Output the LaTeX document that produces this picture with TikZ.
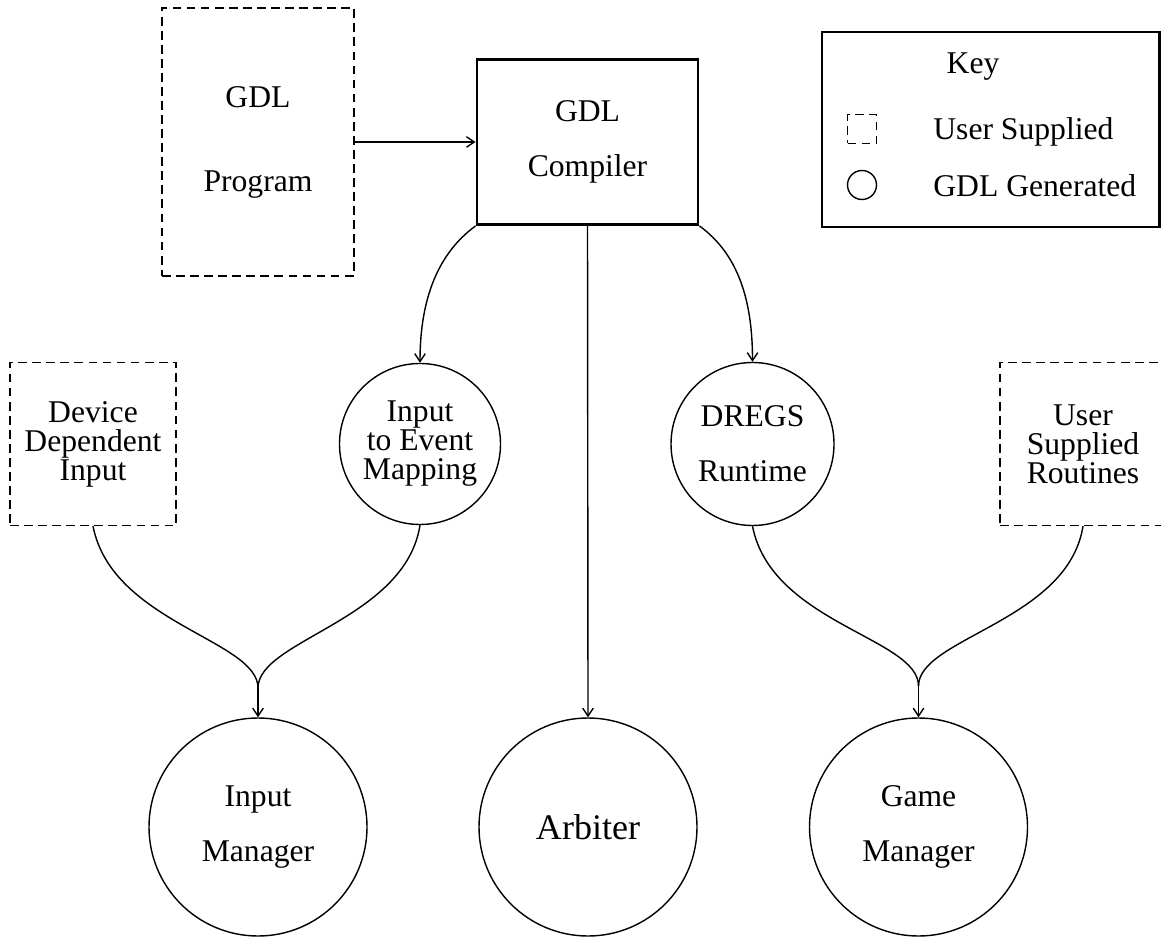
\documentclass[tikz,border=0pt]{standalone}
\usepackage{fontspec}
\setmainfont{Liberation Serif}
\usetikzlibrary{arrows.meta}

\newcommand\gdlfont{\fontsize{18}{16.5}\selectfont\lineskiplimit=-20pt\relax}

\begin{document}
\begin{tikzpicture}[
  >={Straight Barb[length=4.5pt,width=6pt]},
  every node/.style={font=\gdlfont, align=center},
  usrbox/.style={draw, dash pattern=on 5pt off 3pt, line width=0.7pt, inner sep=0pt},
  gen/.style={draw, circle, line width=0.8pt, inner sep=0pt},
  flow/.style={->, line width=0.8pt}
]
\useasboundingbox (0,0) rectangle (23.22,18.76);
\def\ytop{15.92}
\def\ymid{9.88}
\def\ylow{2.22}
%top row
\node[usrbox, minimum width=3.84cm, minimum height=5.36cm] (prog) at (5.16,\ytop) {GDL\\[1.1cm]Program};
\node[draw, line width=1.6pt, minimum width=4.42cm, minimum height=3.3cm] (comp) at (11.75,\ytop) {GDL\\[0.52cm]Compiler};
%key
\node[draw, line width=1.6pt, minimum width=6.75cm, minimum height=3.9cm] (key) at (19.815,16.17) {};
\node (keyt) at (19.46,17.42) {Key};
\node[usrbox, minimum size=0.58cm] (ku) at (17.24,16.18) {};
\node[gen, minimum size=0.58cm] (kg) at (17.24,15.06) {};
\node[anchor=west, inner sep=0pt] (kut) at (18.66,16.12) {User Supplied};
\node[anchor=west, inner sep=0pt] (kgt) at (18.66,15.04) {GDL Generated};
%middle row
\node[usrbox, minimum width=3.32cm, minimum height=3.26cm] (dev) at (1.86,\ymid) {Device\\Dependent\\Input};
\node[gen, minimum size=3.22cm] (map) at (8.4,\ymid) {Input\\to Event\\Mapping};
\node[gen, minimum size=3.26cm] (dregs) at (15.05,\ymid) {DREGS\\[0.52cm]Runtime};
\node[usrbox, minimum width=3.32cm, minimum height=3.26cm] (usr) at (21.66,\ymid) {User\\Supplied\\Routines};
%bottom row
\node[gen, minimum size=4.36cm] (inmgr) at (5.16,\ylow) {Input\\[0.52cm]Manager};
\node[gen, minimum size=4.36cm, font=\fontsize{20.5}{24}\selectfont] (arb) at (11.76,\ylow) {Arbiter};
\node[gen, minimum size=4.36cm] (gmgr) at (18.37,\ylow) {Game\\[0.52cm]Manager};
%merge points
\coordinate (mL) at (5.16,5.0);
\coordinate (mR) at (18.37,5.04);
%compiler in and out
\draw[flow] (prog.east) -- (comp.west);
\draw[flow] (comp.south) -- (arb.north);
\draw[flow] (comp.south west) .. controls +(-0.74,-0.54) and +(0,1.3) .. (map.north);
\draw[flow] (comp.south east) .. controls +(0.74,-0.54) and +(0,1.3) .. (dregs.north);
%into the managers
\draw[line width=0.8pt] (dev.south) .. controls +(0.38,-1.94) and +(0,0.96) .. (mL);
\draw[line width=0.8pt] (map.south) .. controls +(-0.3,-1.9) and +(0,0.96) .. (mL);
\draw[flow] (mL) -- (inmgr.north);
\draw[line width=0.8pt] (dregs.south) .. controls +(0.38,-1.94) and +(0,0.96) .. (mR);
\draw[line width=0.8pt] (usr.south) .. controls +(-0.3,-1.9) and +(0,0.96) .. (mR);
\draw[flow] (mR) -- (gmgr.north);
\end{tikzpicture}
\end{document}
